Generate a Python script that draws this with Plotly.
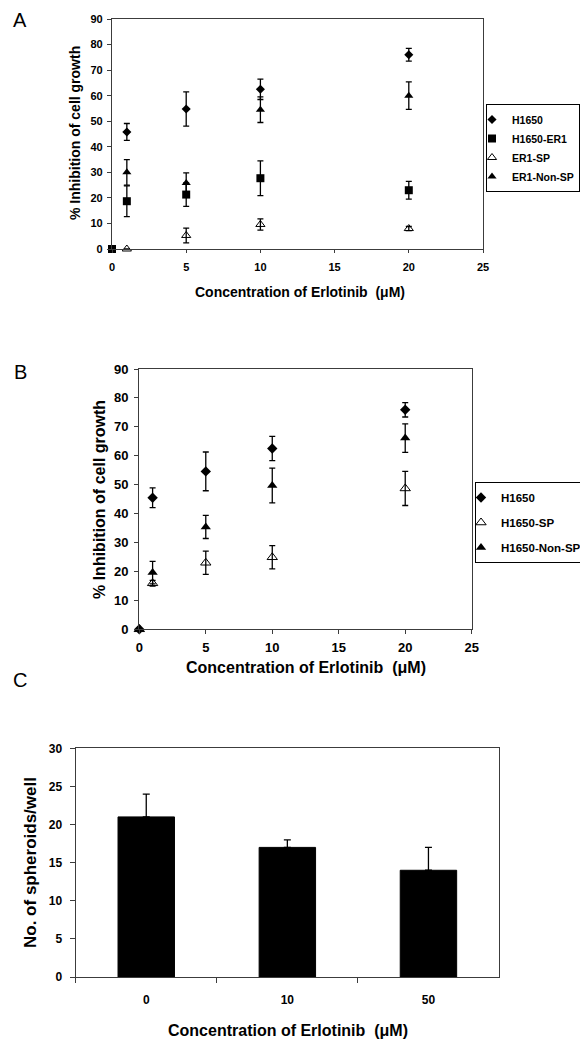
import plotly.graph_objects as go

# ---------------- Panel A data ----------------
a_conc = [0, 1, 5, 10, 20]
a_h1650 = [None, 45.8, 54.8, 62.5, 76.0]
a_h1650_err = [None, 3.3, 6.7, 4.0, 2.5]
a_er1 = [0, 18.7, 21.3, 27.7, 23.0]
a_er1_err = [0, 6.0, 4.6, 6.8, 3.5]
a_er1_sp = [None, 0.0, 5.3, 9.6, 8.0]
a_er1_sp_err = [None, 0.0, 2.9, 2.2, 0.8]
a_er1_nonsp = [None, 30.0, 25.8, 54.5, 60.0]
a_er1_nonsp_err = [None, 5.0, 4.0, 5.0, 5.4]

# ---------------- Panel B data ----------------
b_conc = [0, 1, 5, 10, 20]
b_h1650 = [0, 45.5, 54.6, 62.5, 75.9]
b_h1650_err = [0, 3.4, 6.7, 4.2, 2.5]
b_sp = [0, 15.9, 23.0, 24.9, 48.7]
b_sp_err = [0, 1.0, 4.0, 4.0, 5.9]
b_nonsp = [0, 19.6, 35.4, 49.7, 66.1]
b_nonsp_err = [0, 3.9, 4.0, 6.0, 4.9]

# ---------------- Panel C data ----------------
c_conc = ["0", "10", "50"]
c_spheroids = [21, 17, 14]
c_err = [3, 1, 3]

FONT = "Liberation Sans"
AX = "#3c3c3c"

# The page body has an 8px margin, so the figure is placed at (8, 8) in the window.
OFF = 8
W, H = 588 - OFF, 1040 - OFF


def px(X):
    return (X - OFF) / W


def py(Y):
    return 1 - (Y - OFF) / H


fig = go.Figure()


def err(arr, w=3):
    return dict(type="data", array=arr, visible=True, color="black", thickness=1.3, width=w)


# Panel A traces
fig.add_trace(go.Scatter(x=a_conc, y=a_h1650, mode="markers", name="H1650",
                         marker=dict(symbol="diamond", size=7, color="black"),
                         error_y=err(a_h1650_err), xaxis="x", yaxis="y",
                         legend="legend", legendrank=1, cliponaxis=False))
fig.add_trace(go.Scatter(x=a_conc, y=a_er1_sp, mode="markers", name="ER1-SP",
                         marker=dict(symbol="triangle-up-open", size=8, color="black", line=dict(width=1)),
                         error_y=err(a_er1_sp_err), xaxis="x", yaxis="y",
                         legend="legend", legendrank=3, cliponaxis=False))
fig.add_trace(go.Scatter(x=a_conc, y=a_er1_nonsp, mode="markers", name="ER1-Non-SP",
                         marker=dict(symbol="triangle-up", size=8, color="black"),
                         error_y=err(a_er1_nonsp_err), xaxis="x", yaxis="y",
                         legend="legend", legendrank=4, cliponaxis=False))
fig.add_trace(go.Scatter(x=a_conc, y=a_er1, mode="markers", name="H1650-ER1",
                         marker=dict(symbol="square", size=8, color="black"),
                         error_y=err(a_er1_err), xaxis="x", yaxis="y",
                         legend="legend", legendrank=2, cliponaxis=False))

# Panel B traces
fig.add_trace(go.Scatter(x=b_conc, y=b_h1650, mode="markers", name="H1650",
                         marker=dict(symbol="diamond", size=8, color="black"),
                         error_y=err(b_h1650_err), xaxis="x2", yaxis="y2",
                         legend="legend2", legendgroup="b1", cliponaxis=False))
fig.add_trace(go.Scatter(x=b_conc, y=b_sp, mode="markers", name="H1650-SP",
                         marker=dict(symbol="triangle-up-open", size=9, color="black", line=dict(width=1)),
                         error_y=err(b_sp_err), xaxis="x2", yaxis="y2",
                         legend="legend2", legendgroup="b2", cliponaxis=False))
fig.add_trace(go.Scatter(x=b_conc, y=b_nonsp, mode="markers", name="H1650-Non-SP",
                         marker=dict(symbol="triangle-up", size=9, color="black"),
                         error_y=err(b_nonsp_err), xaxis="x2", yaxis="y2",
                         legend="legend2", legendgroup="b3", cliponaxis=False))

# Panel C bars
fig.add_trace(go.Bar(x=c_conc, y=c_spheroids, width=0.4, showlegend=False,
                     marker=dict(color="black", line=dict(color="black", width=1)),
                     error_y=dict(type="data", array=c_err, arrayminus=[0, 0, 0], symmetric=False,
                                  color="black", thickness=1.3, width=3.5),
                     xaxis="x3", yaxis="y3"))


def axis_common(tsize):
    return dict(showline=True, mirror=True, linecolor=AX, linewidth=1.3,
                ticks="outside", tickcolor=AX, tickwidth=1.2,
                showgrid=False, zeroline=False,
                tickfont=dict(family=FONT, size=tsize, color="black", weight="bold"))


fig.update_layout(
    width=W, height=H,
    margin=dict(l=0, r=0, t=0, b=0, autoexpand=False),
    paper_bgcolor="white", plot_bgcolor="white",
    showlegend=True,
    xaxis=dict(domain=[px(112), px(483)], anchor="y", range=[0, 25], dtick=5, ticklen=3,
               ticklabelstandoff=5, **axis_common(11)),
    yaxis=dict(domain=[py(249), py(19)], anchor="x", range=[0, 90], dtick=10, ticklen=4,
               ticklabelstandoff=2, **axis_common(11)),
    xaxis2=dict(domain=[px(139.3), px(471.7)], anchor="y2", range=[0, 25], dtick=5, ticklen=4,
                ticklabelstandoff=2, **axis_common(13)),
    yaxis2=dict(domain=[py(629.3), py(369)], anchor="x2", range=[0, 90], dtick=10, ticklen=4,
                ticklabelstandoff=3, **axis_common(13)),
    xaxis3=dict(domain=[px(75.7), px(499)], anchor="y3", type="category", tickson="boundaries",
                ticklen=5, ticklabelstandoff=11, **axis_common(12)),
    yaxis3=dict(domain=[py(977), py(748.3)], anchor="x3", range=[0, 30], dtick=5, ticklen=5,
                ticklabelstandoff=5, **axis_common(12)),
    legend=dict(x=px(486), y=py(104), xanchor="left", yanchor="top",
                bordercolor="black", borderwidth=1, bgcolor="white",
                font=dict(family=FONT, size=10.5, color="black", weight="bold"),
                itemwidth=30, indentation=-15, tracegroupgap=0),
    legend2=dict(x=px(475), y=py(482), xanchor="left", yanchor="top",
                 bordercolor="black", borderwidth=1, bgcolor="white",
                 font=dict(family=FONT, size=11.5, color="black", weight="bold"),
                 itemwidth=30, indentation=-15, tracegroupgap=6),
)


def tfont(s, bold=True):
    return dict(family=FONT, size=s, color="black", weight="bold" if bold else "normal")


annotations = [
    # Panel letters
    dict(text="A", x=px(20), y=py(20), font=tfont(20, False)),
    dict(text="B", x=px(20), y=py(372), font=tfont(20, False)),
    dict(text="C", x=px(20), y=py(680), font=tfont(20, False)),
    # Axis titles
    dict(text="Concentration of Erlotinib  (μM)", x=px(300), y=py(292), font=tfont(14)),
    dict(text="% Inhibition of cell growth", x=px(75), y=py(133), textangle=-90, font=tfont(14)),
    dict(text="Concentration of Erlotinib  (μM)", x=px(305.7), y=py(667), font=tfont(16)),
    dict(text="% Inhibition of cell growth", x=px(100), y=py(500), textangle=-90, font=tfont(16)),
    dict(text="Concentration of Erlotinib  (μM)", x=px(288), y=py(1030), font=tfont(16)),
    dict(text="No. of spheroids/well", x=px(30), y=py(863), textangle=-90, font=tfont(17)),
]
for a in annotations:
    a.update(xref="paper", yref="paper", showarrow=False, xanchor="center", yanchor="middle")
fig.update_layout(annotations=annotations)

fig.write_html("out.html")
